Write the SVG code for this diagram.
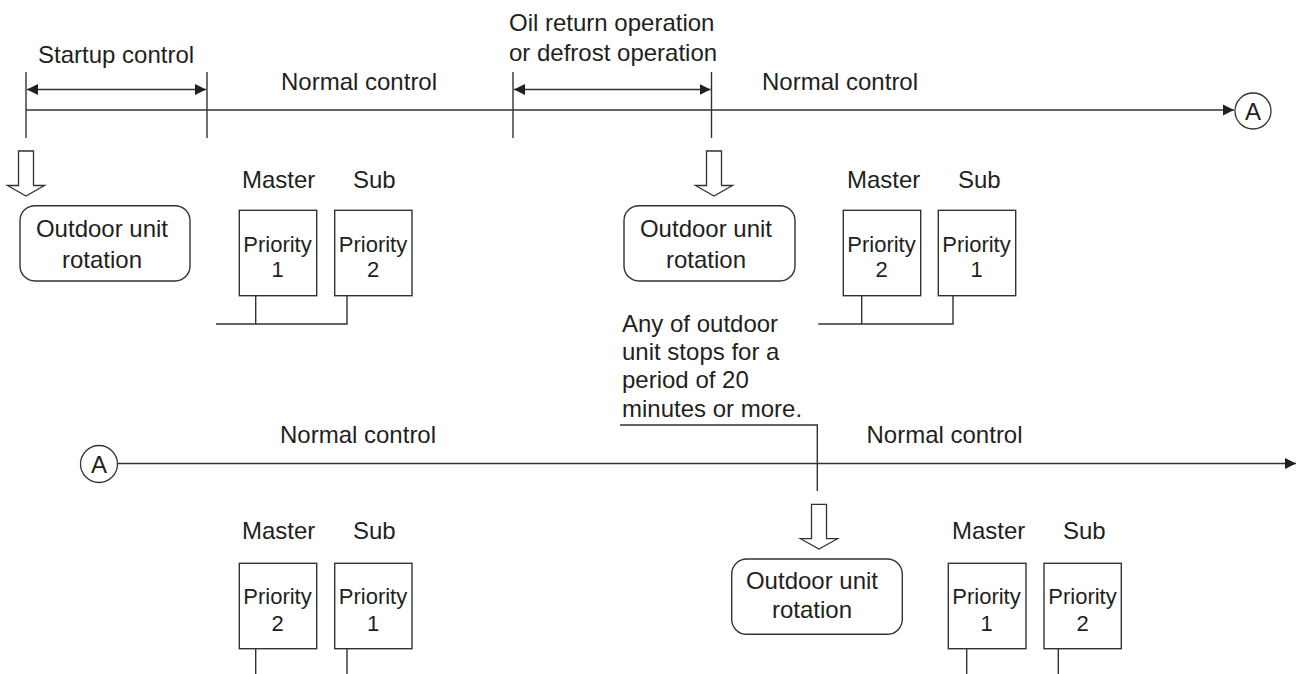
<svg xmlns="http://www.w3.org/2000/svg" width="1296" height="674" viewBox="0 0 1296 674">
<style>
text{font-family:"Liberation Sans",Arial,sans-serif;fill:#231f20;font-size:24px}
.p{font-size:22px;text-anchor:middle}
.c{text-anchor:middle}
.ln{stroke:#333;stroke-width:1.4;fill:none}
.box{stroke:#333;stroke-width:1.4;fill:#fff}
.ha{stroke:#333;stroke-width:1.3;fill:#fff}
</style>
<defs>
<marker id="ah" markerUnits="userSpaceOnUse" markerWidth="12" markerHeight="12" refX="11" refY="6" orient="auto-start-reverse">
<path d="M0,0.5 L11,6 L0,11.5 z" fill="#231f20"/>
</marker>
</defs>
<rect width="1296" height="674" fill="#fff"/>

<g id="connectors">
<line class="ln" x1="26" y1="110" x2="1234" y2="110" marker-end="url(#ah)"/>
<line class="ln" x1="26" y1="72" x2="26" y2="138"/>
<line class="ln" x1="207" y1="72" x2="207" y2="138"/>
<line class="ln" x1="513" y1="72" x2="513" y2="138"/>
<line class="ln" x1="711.5" y1="72" x2="711.5" y2="138"/>
<line class="ln" x1="27" y1="89.5" x2="206" y2="89.5" marker-start="url(#ah)" marker-end="url(#ah)"/>
<line class="ln" x1="514" y1="89.5" x2="710.5" y2="89.5" marker-start="url(#ah)" marker-end="url(#ah)"/>
<line class="ln" x1="117.5" y1="463.5" x2="1296" y2="463.5" marker-end="url(#ah)"/>
<polyline class="ln" points="255.7,296 255.7,324 216,324 347,324 347,296"/>
<polyline class="ln" points="861.7,296 861.7,324 818.3,324 953,324 953,296"/>
<polyline class="ln" points="620,425 817.3,425 817.3,491"/>
<line class="ln" x1="255.7" y1="649" x2="255.7" y2="674"/>
<line class="ln" x1="347" y1="649" x2="347" y2="674"/>
<line class="ln" x1="966.7" y1="649" x2="966.7" y2="674"/>
<line class="ln" x1="1058.3" y1="649" x2="1058.3" y2="674"/>
</g>

<g id="labels">
<text x="38" y="63">Startup control</text>
<text x="281" y="90">Normal control</text>
<text x="509" y="31">Oil return operation</text>
<text x="509" y="61">or defrost operation</text>
<text x="762" y="90">Normal control</text>
<text x="622" y="331.7">Any of outdoor</text>
<text x="622" y="359.5">unit stops for a</text>
<text x="622" y="387.7">period of 20</text>
<text x="622" y="416.5">minutes or more.</text>
<text x="280" y="443">Normal control</text>
<text x="866.5" y="443">Normal control</text>
</g>

<g id="connA1">
<circle class="ha" cx="1253" cy="111" r="18"/>
<text class="c" x="1253" y="119.5">A</text>
</g>
<g id="connA2">
<circle class="ha" cx="99" cy="464" r="18.5"/>
<text class="c" x="99" y="472.5">A</text>
</g>

<g id="arrow1"><polygon class="ha" points="18.5,151 33.5,151 33.5,185.5 44.5,185.5 26,196 7.5,185.5 18.5,185.5"/></g>
<g id="arrow2"><polygon class="ha" points="706.5,151 721.5,151 721.5,185.5 732.5,185.5 714,196 695.5,185.5 706.5,185.5"/></g>
<g id="arrow3"><polygon class="ha" points="811.5,504.3 826.5,504.3 826.5,538.7 837.5,538.7 819,549 800.5,538.7 811.5,538.7"/></g>

<g id="rotation1">
<rect class="box" x="20" y="205.7" width="170" height="75.3" rx="15"/>
<text class="c" x="102" y="237">Outdoor unit</text>
<text class="c" x="102" y="267.5">rotation</text>
</g>
<g id="rotation2">
<rect class="box" x="624" y="205.7" width="171" height="75.3" rx="15"/>
<text class="c" x="706" y="237">Outdoor unit</text>
<text class="c" x="706" y="267.5">rotation</text>
</g>
<g id="rotation3">
<rect class="box" x="731.7" y="559" width="170.6" height="75.3" rx="15"/>
<text class="c" x="812" y="589">Outdoor unit</text>
<text class="c" x="812" y="618.3">rotation</text>
</g>

<g id="pair1">
<text x="242" y="188">Master</text>
<text x="353" y="188">Sub</text>
<rect class="box" x="239.3" y="210.3" width="77.4" height="85.4"/>
<text class="p" x="277.5" y="251.7">Priority</text>
<text class="p" x="277.5" y="277.3">1</text>
<rect class="box" x="334.7" y="210.3" width="77.3" height="85.4"/>
<text class="p" x="373" y="251.7">Priority</text>
<text class="p" x="373" y="277.3">2</text>
</g>
<g id="pair2">
<text x="847" y="188">Master</text>
<text x="958" y="188">Sub</text>
<rect class="box" x="843.3" y="210.3" width="77.4" height="85.4"/>
<text class="p" x="881.5" y="251.7">Priority</text>
<text class="p" x="881.5" y="277.3">2</text>
<rect class="box" x="938.3" y="210.3" width="77.4" height="85.4"/>
<text class="p" x="976.5" y="251.7">Priority</text>
<text class="p" x="976.5" y="277.3">1</text>
</g>
<g id="pair3">
<text x="242" y="539">Master</text>
<text x="353" y="539">Sub</text>
<rect class="box" x="239.3" y="563.3" width="77.4" height="85.4"/>
<text class="p" x="277.5" y="604.3">Priority</text>
<text class="p" x="277.5" y="630.7">2</text>
<rect class="box" x="334.7" y="563.3" width="77.3" height="85.4"/>
<text class="p" x="373" y="604.3">Priority</text>
<text class="p" x="373" y="630.7">1</text>
</g>
<g id="pair4">
<text x="952" y="538.5">Master</text>
<text x="1063" y="538.5">Sub</text>
<rect class="box" x="948.3" y="563.3" width="77.7" height="85.4"/>
<text class="p" x="986.5" y="604.3">Priority</text>
<text class="p" x="986.5" y="630.7">1</text>
<rect class="box" x="1044" y="563.3" width="77.3" height="85.4"/>
<text class="p" x="1082.5" y="604.3">Priority</text>
<text class="p" x="1082.5" y="630.7">2</text>
</g>
</svg>
